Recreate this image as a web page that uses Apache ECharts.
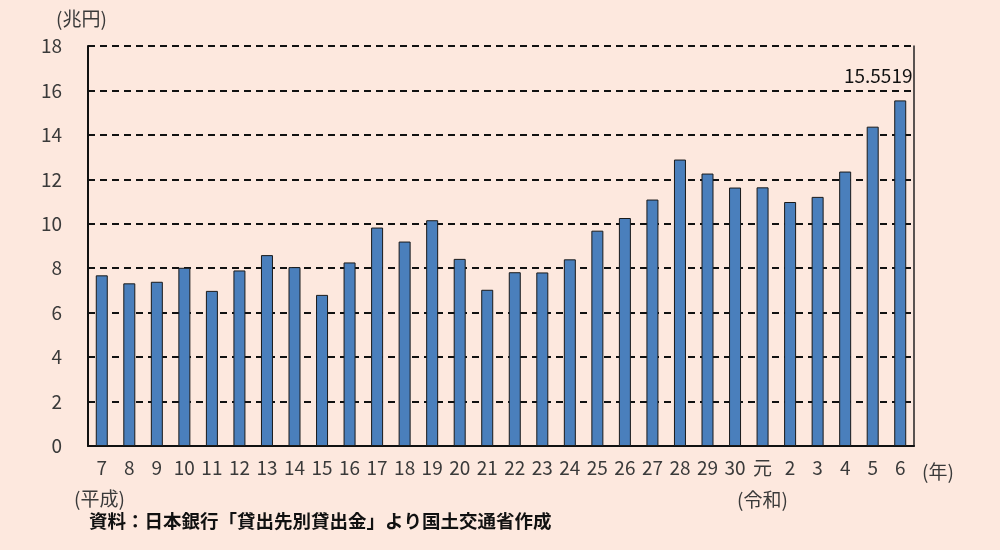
<!DOCTYPE html>
<html>
<head>
<meta charset="utf-8">
<script src="https://cdn.jsdelivr.net/npm/echarts@6/dist/echarts.min.js"></script>
<style>
html,body{margin:0;padding:0;background:#FDE8DE;}
#c{width:1000px;height:550px;}
</style>
</head>
<body>
<div id="c"></div>
<script>
const categories = ['7','8','9','10','11','12','13','14','15','16','17','18','19','20','21','22','23','24','25','26','27','28','29','30','元','2','3','4','5','6'];
const values = [7.68,7.32,7.39,8.02,6.98,7.90,8.59,8.05,6.80,8.26,9.83,9.20,10.16,8.42,7.03,7.82,7.81,8.40,9.69,10.26,11.09,12.89,12.26,11.63,11.64,10.98,11.21,12.35,14.37,15.5519];
const yTicks = [0,2,4,6,8,10,12,14,16,18];
const lastLabel = '15.5519';

const font = '"Noto Sans CJK JP", "Noto Sans", sans-serif';
const chart = echarts.init(document.getElementById('c'));
chart.setOption({
  backgroundColor: '#FDE8DE',
  animation: false,
  grid: {left: 88, right: 86, top: 46, bottom: 104},
  xAxis: {
    type: 'category',
    data: categories,
    axisLine: {show: true, lineStyle: {color: '#111', width: 2}},
    axisTick: {show: false},
    axisLabel: {
      color: '#3a3a3a', fontSize: 19, fontFamily: font, margin: 12,
      interval: 0
    }
  },
  yAxis: [{
    type: 'value',
    min: 0, max: 18, interval: 2,
    axisLine: {show: true, lineStyle: {color: '#111', width: 2}},
    axisTick: {show: false},
    axisLabel: {color: '#3a3a3a', fontSize: 19, fontFamily: font, margin: 26,
      formatter: v => yTicks.includes(v) ? String(v) : ''},
    splitLine: {show: true, lineStyle: {color: '#111', type: [7, 5], width: 2}}
  }, {
    type: 'value',
    position: 'right',
    min: 0, max: 18, interval: 2,
    axisLine: {show: true, lineStyle: {color: '#222', width: 1.5}},
    axisTick: {show: false},
    axisLabel: {show: false},
    splitLine: {show: false}
  }],
  series: [{
    type: 'bar',
    data: values.map((v, i) => i === values.length - 1 ? {
      value: v,
      label: {show: true, position: 'top', formatter: lastLabel, color: '#111',
        fontSize: 19, fontFamily: font, offset: [-22, -10]}
    } : v),
    barWidth: 12,
    itemStyle: {color: '#4A7FBC', borderColor: '#1a1a1a', borderWidth: 1}
  }],
  graphic: [
    {type: 'text', left: 56, top: 9, style: {text: '(兆円)', fill: '#3a3a3a', fontSize: 19, fontFamily: font}},
    {type: 'text', left: 74, top: 489, style: {text: '(平成)', fill: '#3a3a3a', fontSize: 19, fontFamily: font}},
    {type: 'text', left: 737, top: 490, style: {text: '(令和)', fill: '#3a3a3a', fontSize: 19, fontFamily: font}},
    {type: 'text', left: 922, top: 462, style: {text: '(年)', fill: '#3a3a3a', fontSize: 19, fontFamily: font}},
    {type: 'text', left: 89, top: 512, style: {text: '資料：日本銀行「貸出先別貸出金」より国土交通省作成', fill: '#111', fontSize: 18.5, fontWeight: 'bold', fontFamily: font}}
  ]
});
</script>
</body>
</html>
